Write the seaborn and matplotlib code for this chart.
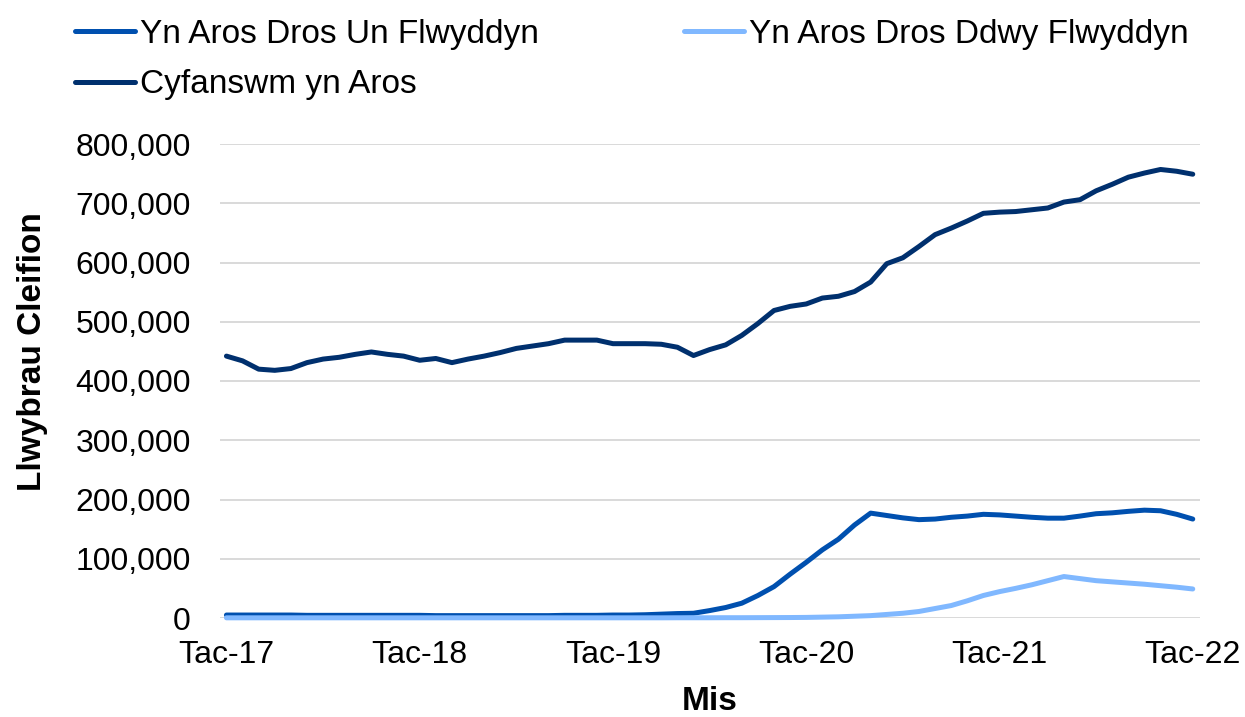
import pandas as pd
import matplotlib
matplotlib.use('Agg')
import matplotlib.pyplot as plt
import seaborn as sns
from matplotlib.ticker import FuncFormatter

# ── Data (monthly, Nov 2017 - Nov 2022) ─────────────────────────────────────
TICK_LABELS = ['Tac-17', 'Tac-18', 'Tac-19', 'Tac-20', 'Tac-21', 'Tac-22']

SERIES_NAMES = ['Yn Aros Dros Un Flwyddyn', 'Yn Aros Dros Ddwy Flwyddyn', 'Cyfanswm yn Aros']

over_one_year = [
    5000, 5000, 5000, 5000, 5000, 4500, 4500, 4500, 4500, 4500,
    4500, 4500, 4500, 4000, 4000, 4000, 4000, 4000, 4000, 4000,
    4000, 4500, 4500, 4500, 5000, 5000, 5500, 6500, 7500, 8000,
    12500, 17700, 25000, 38000, 53000, 74000, 94000, 115000, 133000, 157000,
    177000, 173000, 169000, 166000, 167000, 170000, 172000, 175000, 174000, 172000,
    170000, 168500, 168500, 172000, 176000, 177500, 180000, 182000, 181000, 175000,
    167000,
]

over_two_years = [
    300, 300, 300, 300, 300, 300, 300, 300, 300, 300,
    300, 300, 300, 300, 300, 300, 300, 300, 300, 300,
    300, 300, 300, 300, 300, 300, 300, 300, 400, 400,
    400, 500, 500, 600, 700, 800, 1000, 1500, 2000, 3000,
    4000, 6000, 8000, 11000, 16000, 21000, 29000, 38000, 44500, 50000,
    56000, 63000, 70000, 66500, 63000, 61000, 59000, 57000, 54500, 52000,
    49000,
]

total_waiting = [
    442000, 434000, 420000, 418000, 421000, 431000, 437000, 440000, 445000, 449000,
    445000, 442000, 435000, 438000, 431000, 437000, 442000, 448000, 455000, 459000,
    463000, 469000, 469000, 469000, 463000, 463000, 463000, 462000, 457000, 443000,
    453000, 461000, 477000, 497000, 519000, 526000, 530000, 540000, 543000, 551000,
    567000, 598000, 608000, 627000, 647000, 658000, 670000, 683000, 685000, 686000,
    689000, 692000, 702000, 706000, 721000, 732000, 744000, 751000, 757000, 754000,
    749000,
]

COLORS = ['#0050AF', '#80B8FF', '#00306E']

# ── Long-form table ──────────────────────────────────────────────────────────
month_idx = list(range(len(total_waiting)))
frames = []
for name, vals in zip(SERIES_NAMES, [over_one_year, over_two_years, total_waiting]):
    frames.append(pd.DataFrame({'month': month_idx, 'value': vals, 'series': name}))
df = pd.concat(frames, ignore_index=True)

# ── Plot ─────────────────────────────────────────────────────────────────────
sns.set_theme(style='white')
plt.rcParams['font.family'] = ['Liberation Sans', 'DejaVu Sans']
plt.rcParams['text.color'] = 'black'
plt.rcParams['axes.labelcolor'] = 'black'

fig, ax = plt.subplots(figsize=(12.45, 7.17), dpi=100)
fig.subplots_adjust(left=220 / 1245, right=1200 / 1245,
                    top=1 - 144 / 717, bottom=1 - 618 / 717)

sns.lineplot(data=df, x='month', y='value', hue='series', hue_order=SERIES_NAMES,
             palette=COLORS, linewidth=3.6, ax=ax, legend=False)
for line in ax.lines:
    line.set_clip_on(False)
    line.set_solid_capstyle('round')
    line.set_solid_joinstyle('round')

ax.set_xlim(-0.4, 60.45)
ax.set_ylim(0, 800000)
ax.set_xticks(range(0, 61, 12))
ax.set_xticklabels(TICK_LABELS)
ax.set_yticks(range(0, 800001, 100000))
ax.yaxis.set_major_formatter(FuncFormatter(lambda v, p: f'{v:,.0f}'))

ax.grid(axis='y', color='#D9D9D9', linewidth=1.4)
ax.grid(axis='x', visible=False)
ax.set_axisbelow(True)
for s in ax.spines.values():
    s.set_visible(False)
ax.tick_params(axis='both', length=0, labelsize=23, colors='black')
ax.tick_params(axis='y', pad=21)
ax.tick_params(axis='x', pad=16)

ax.set_xlabel('Mis', fontsize=24, fontweight='bold', color='black')
ax.set_ylabel('Llwybrau Cleifion', fontsize=24, fontweight='bold', color='black')
ax.xaxis.set_label_coords(0.5, -0.143)
ax.yaxis.set_label_coords(-0.175, 0.562)

# ── Legend (row-major like the original) ────────────────────────────────────
handles = [plt.Line2D([], [], color=c, linewidth=3.6, solid_capstyle='round') for c in COLORS]
order = [0, 2, 1]
leg = ax.legend([handles[i] for i in order], [SERIES_NAMES[i] for i in order],
                ncol=2, loc='upper left', bbox_to_anchor=(75 / 1245, 1 - 19 / 717),
                bbox_transform=fig.transFigure, frameon=False, fontsize=24,
                handlelength=1.8, handletextpad=0.15, columnspacing=4.35,
                labelspacing=0.58, borderpad=0, borderaxespad=0)
for t in leg.get_texts():
    t.set_color('black')

plt.savefig('out.png', dpi=100)
